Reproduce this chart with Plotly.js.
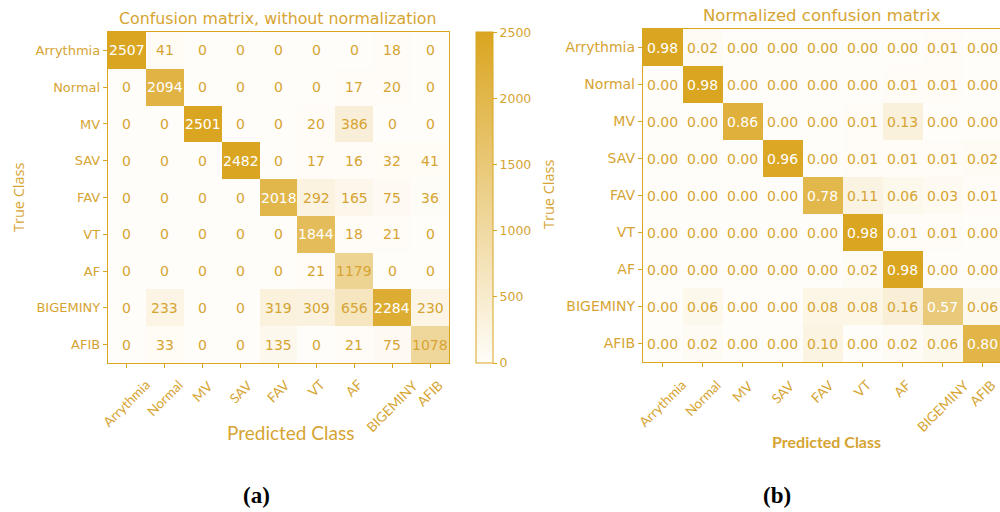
<!DOCTYPE html>
<html>
<head>
<meta charset="utf-8">
<script src="https://cdn.plot.ly/plotly-3.0.1.min.js"></script>
<style>html,body{margin:0;padding:0;background:#fff;}#chart{width:1000px;height:512px;}</style>
</head>
<body>
<div id="chart"></div>
<script>
const classes = ["Arrythmia","Normal","MV","SAV","FAV","VT","AF","BIGEMINY","AFIB"];

const countsArrythmia = [2507, 41, 0, 0, 0, 0, 0, 18, 0];
const countsNormal    = [0, 2094, 0, 0, 0, 0, 17, 20, 0];
const countsMV        = [0, 0, 2501, 0, 0, 20, 386, 0, 0];
const countsSAV       = [0, 0, 0, 2482, 0, 17, 16, 32, 41];
const countsFAV       = [0, 0, 0, 0, 2018, 292, 165, 75, 36];
const countsVT        = [0, 0, 0, 0, 0, 1844, 18, 21, 0];
const countsAF        = [0, 0, 0, 0, 0, 21, 1179, 0, 0];
const countsBIGEMINY  = [0, 233, 0, 0, 319, 309, 656, 2284, 230];
const countsAFIB      = [0, 33, 0, 0, 135, 0, 21, 75, 1078];

const normArrythmia = [0.98, 0.02, 0.00, 0.00, 0.00, 0.00, 0.00, 0.01, 0.00];
const normNormal    = [0.00, 0.98, 0.00, 0.00, 0.00, 0.00, 0.01, 0.01, 0.00];
const normMV        = [0.00, 0.00, 0.86, 0.00, 0.00, 0.01, 0.13, 0.00, 0.00];
const normSAV       = [0.00, 0.00, 0.00, 0.96, 0.00, 0.01, 0.01, 0.01, 0.02];
const normFAV       = [0.00, 0.00, 0.00, 0.00, 0.78, 0.11, 0.06, 0.03, 0.01];
const normVT        = [0.00, 0.00, 0.00, 0.00, 0.00, 0.98, 0.01, 0.01, 0.00];
const normAF        = [0.00, 0.00, 0.00, 0.00, 0.00, 0.02, 0.98, 0.00, 0.00];
const normBIGEMINY  = [0.00, 0.06, 0.00, 0.00, 0.08, 0.08, 0.16, 0.57, 0.06];
const normAFIB      = [0.00, 0.02, 0.00, 0.00, 0.10, 0.00, 0.02, 0.06, 0.80];

const colorbarTicks = [0, 500, 1000, 1500, 2000, 2500];

const countsZ = [countsArrythmia, countsNormal, countsMV, countsSAV, countsFAV, countsVT, countsAF, countsBIGEMINY, countsAFIB];
const normZ = [normArrythmia, normNormal, normMV, normSAV, normFAV, normVT, normAF, normBIGEMINY, normAFIB];

const GOLD = '#DAA520';
const TXT = '#D6A432';
const cscale = [[0, '#FFFDF9'], [1, '#DAA520']];

const H = 512, W = 1000;
const px = v => v / W;
const py = v => 1 - v / H;

const traces = [
  {
    type: 'heatmap', z: countsZ, x: classes, y: classes,
    xaxis: 'x', yaxis: 'y', colorscale: cscale, zmin: 0, zmax: Math.max(...countsZ.flat()),
    hoverinfo: 'skip', xgap: 0, ygap: 0,
    colorbar: {
      x: px(476), xanchor: 'left', xpad: 0, ypad: 0,
      y: py(32), yanchor: 'top', len: (363 - 32) / H, lenmode: 'fraction',
      thickness: 17, thicknessmode: 'pixels',
      outlinecolor: GOLD, outlinewidth: 1,
      tickmode: 'array', tickvals: colorbarTicks, ticktext: colorbarTicks.map(String),
      ticks: 'outside', ticklen: 4, tickcolor: GOLD,
      tickfont: {family: 'DejaVu Sans', size: 12.5, color: TXT}
    }
  },
  {
    type: 'heatmap', z: normZ, x: classes, y: classes,
    xaxis: 'x2', yaxis: 'y2', colorscale: cscale, zmin: 0, zmax: Math.max(...normZ.flat()),
    hoverinfo: 'skip', showscale: false
  }
];

const annotations = [];
function cellText(Z, xr, yr, fmt, size) {
  const mx = Math.max(...Z.flat());
  Z.forEach((row, i) => row.forEach((v, j) => {
    annotations.push({
      x: classes[j], y: classes[i], xref: xr, yref: yr, showarrow: false,
      text: fmt(v),
      font: {family: 'DejaVu Sans', size: size, color: v > mx / 2 ? '#FFFFFF' : TXT}
    });
  }));
}
cellText(countsZ, 'x', 'y', v => String(v), 14);
cellText(normZ, 'x2', 'y2', v => v.toFixed(2), 14);

// rotated x tick labels (centered on ticks)
classes.forEach(c => {
  ['x', 'x2'].forEach(xr => {
    annotations.push({
      x: c, xref: xr, y: py(374), yref: 'paper', xanchor: 'center', yanchor: 'top',
      textangle: -45, showarrow: false, text: c,
      font: {family: 'Lato', size: 13.5, color: TXT}
    });
  });
});

// titles and labels
annotations.push(
  {x: px(278), y: py(18), xref: 'paper', yref: 'paper', showarrow: false, xanchor: 'center', yanchor: 'middle',
   text: 'Confusion matrix, without normalization', font: {family: 'DejaVu Sans', size: 15.8, color: TXT}},
  {x: px(822), y: py(15), xref: 'paper', yref: 'paper', showarrow: false, xanchor: 'center', yanchor: 'middle',
   text: 'Normalized confusion matrix', font: {family: 'DejaVu Sans', size: 16.5, color: TXT}},
  {x: px(18), y: py(198), xref: 'paper', yref: 'paper', showarrow: false, xanchor: 'center', yanchor: 'middle',
   textangle: -90, text: 'True Class', font: {family: 'Open Sans', size: 14.5, color: TXT}},
  {x: px(548), y: py(195), xref: 'paper', yref: 'paper', showarrow: false, xanchor: 'center', yanchor: 'middle',
   textangle: -90, text: 'True Class', font: {family: 'Open Sans', size: 14.5, color: TXT}},
  {x: px(290), y: py(432), xref: 'paper', yref: 'paper', showarrow: false, xanchor: 'center', yanchor: 'middle',
   text: 'Predicted Class', font: {family: 'Lato', size: 19, color: TXT}},
  {x: px(826), y: py(441), xref: 'paper', yref: 'paper', showarrow: false, xanchor: 'center', yanchor: 'middle',
   text: '<b>Predicted Class</b>', font: {family: 'Lato', size: 16, color: TXT}},
  {x: px(256), y: py(495), xref: 'paper', yref: 'paper', showarrow: false, xanchor: 'center', yanchor: 'middle',
   text: '<b>(a)</b>', font: {family: 'Liberation Serif', size: 23, color: '#000'}},
  {x: px(777), y: py(495), xref: 'paper', yref: 'paper', showarrow: false, xanchor: 'center', yanchor: 'middle',
   text: '<b>(b)</b>', font: {family: 'Liberation Serif', size: 23, color: '#000'}}
);

const axCommon = {
  type: 'category', showgrid: false, zeroline: false, mirror: true, showline: true,
  linecolor: GOLD, linewidth: 1.2, ticks: 'outside', ticklen: 4, tickcolor: GOLD, fixedrange: true
};

const layout = {
  width: W, height: H, margin: {l: 0, r: 0, t: 0, b: 0},
  paper_bgcolor: '#fff', plot_bgcolor: '#fff', showlegend: false,
  xaxis: Object.assign({}, axCommon, {domain: [px(108), px(449)], anchor: 'y', showticklabels: false, range: [-0.5, 8.5]}),
  yaxis: Object.assign({}, axCommon, {domain: [py(363), py(32)], anchor: 'x', autorange: 'reversed',
    tickfont: {family: 'DejaVu Sans', size: 13, color: TXT}}),
  xaxis2: Object.assign({}, axCommon, {domain: [px(643), 1], anchor: 'y2', showticklabels: false, range: [-0.5, 8.43]}),
  yaxis2: Object.assign({}, axCommon, {domain: [py(362), py(29)], anchor: 'x2', autorange: 'reversed',
    tickfont: {family: 'DejaVu Sans', size: 14, color: TXT}}),
  annotations: annotations
};

Plotly.newPlot('chart', traces, layout, {displayModeBar: false, staticPlot: true});
</script>
</body>
</html>
